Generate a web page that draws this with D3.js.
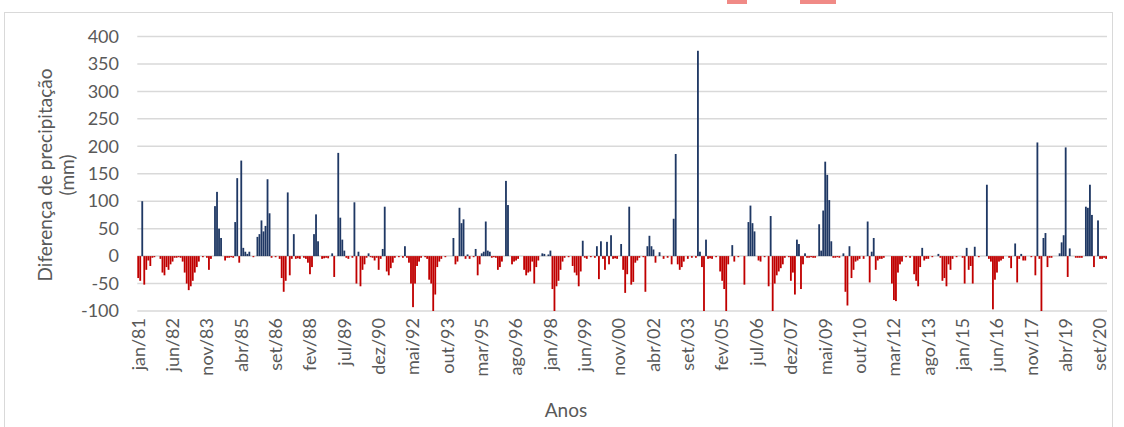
<!DOCTYPE html>
<html>
<head>
<meta charset="utf-8">
<script src="https://cdn.jsdelivr.net/npm/d3@7"></script>
<style>
body { margin: 0; background: #fff; }
svg text { font-family: Lato, "Open Sans", sans-serif; fill: #595959; }
</style>
</head>
<body>
<script>
var w = 1124;
var h = 427;

// meses e anos para os rotulos do eixo x
var meses = ["jan","fev","mar","abr","mai","jun","jul","ago","set","out","nov","dez"];
var anoInicial = 1981;
var yTicks = [-100, -50, 0, 50, 100, 150, 200, 250, 300, 350, 400];

// diferenca de precipitacao (mm), um valor por mes, jan/81 a dez/20
var diferenca = [
 -40, -45, 100, -52, -25, -8, -18, -3, -2, 0, 0, -5,        // 1981
 -30, -35, -20, -25, -15, -10, -3, -3, -2, -3, -10, -30,    // 1982
 -50, -62, -55, -45, -30, -20, -10, 0, -2, 0, -3, -25,      // 1983
 -5, 0, 91, 117, 50, 33, 0, -8, -3, -3, -2, -3,             // 1984
 62, 142, -12, 174, 15, 8, 4, 8, 0, -2, 0, 35,              // 1985
 40, 65, 45, 55, 140, 78, -3, 0, -2, 0, -5, -40,            // 1986
 -65, -45, 116, -35, -5, 40, -5, -4, -5, 0, -3, -5,         // 1987
 -12, -33, -20, 40, 76, 27, 0, -5, -4, -3, -4, 0,           // 1988
 5, -38, 0, 188, 70, 30, 10, -3, -5, 0, -3, 98,             // 1989
 -50, 8, -55, -25, -15, -3, 5, -2, -3, -8, -3, -25,         // 1990
 -5, 13, 90, -28, -35, -22, -12, -3, 0, -2, 0, -3,          // 1991
 18, -3, -12, -50, -93, -50, -18, -10, -3, 0, -2, -5,       // 1992
 -43, -50, -100, -70, -20, -10, -5, 0, -2, 0, 0, 0,         // 1993
 33, -15, -10, 88, 60, 67, -5, 3, -5, 0, -2, 13,            // 1994
 -35, -15, 5, 8, 63, 10, 8, -3, -2, -3, -25, -20,           // 1995
 -10, 0, 137, 93, 0, -15, -10, -8, -5, 0, 0, -25,           // 1996
 -35, -30, -28, -10, -50, -20, -8, 0, 5, 4, 0, 3,           // 1997
 10, -60, -100, -55, -45, -25, -10, -3, 0, -2, 0, -18,      // 1998
 -30, -35, -55, -28, 28, -3, -5, 0, -2, 0, -3, 18,          // 1999
 -42, 27, -5, -25, 26, -15, 38, -5, -4, -5, 0, 22,          // 2000
 -25, -67, -33, 90, -52, -47, -12, -8, -3, 0, -2, -65,      // 2001
 18, 37, 18, 12, -12, 0, 7, 0, -5, 0, -3, 0,                // 2002
 -15, 68, 186, -15, -25, -20, -10, 0, -5, 0, -3, 0,         // 2003
 -3, 374, 8, -20, -100, 30, -5, -4, -5, 0, -2, 0,           // 2004
 -28, -45, -60, -100, -15, 0, 20, -10, 0, -2, 0, 0,         // 2005
 -52, 0, 62, 92, 60, 45, 0, -8, -10, 0, -2, 0,              // 2006
 -55, 73, -100, -50, -35, -28, -22, -15, -3, 0, -2, -45,    // 2007
 -30, -70, 30, 22, -60, -15, 5, -3, -3, -2, -3, -3,         // 2008
 0, 58, 10, 83, 172, 148, 102, 27, -3, -3, -2, -3,          // 2009
 0, 5, -65, -90, 18, -40, -25, -10, -8, -5, 0, -5,          // 2010
 0, 63, -48, 8, 33, -25, -8, -5, -5, -3, 0, 0,              // 2011
 0, -50, -80, -82, -30, -15, -10, 0, -2, 0, -3, 0,          // 2012
 -33, -45, -55, -20, 15, -8, -5, -5, 0, -2, 0, 0,           // 2013
 4, -3, -45, -40, -55, -15, -25, -5, 0, -2, 0, 0,           // 2014
 -3, -50, 15, -25, -18, -50, 17, 0, -2, 0, 0, 0,            // 2015
 130, -5, -10, -97, -43, -30, -10, -8, -5, 0, 0, -3,        // 2016
 -22, 0, 23, -48, -5, 4, -8, -8, 0, 0, -2, 0,               // 2017
 -35, 207, -5, -100, 33, 42, -20, -3, -3, 0, 0, 0,          // 2018
 5, 25, 38, 198, -38, 14, 0, 0, -3, -3, -3, -3,             // 2019
 0, 90, 88, 130, 75, -20, 0, 65, -5, -5, -3, -5             // 2020
];

var categorias = diferenca.map(function(d, i) {
    var ano = anoInicial + Math.floor(i / 12);
    return meses[i % 12] + "/" + String(ano).slice(2);
});

var svg = d3.select("body")
    .append("svg")
    .attr("width", w)
    .attr("height", h);

// moldura do grafico
svg.append("rect")
    .attr("x", 4.5).attr("y", 12.5)
    .attr("width", 1108).attr("height", 430)
    .attr("fill", "none")
    .attr("stroke", "#d9d9d9");

// fragmentos vermelhos no topo
svg.append("rect").attr("x", 727).attr("y", 0).attr("width", 20).attr("height", 4).attr("fill", "#f08a86");
svg.append("rect").attr("x", 800).attr("y", 0).attr("width", 36).attr("height", 4).attr("fill", "#f08a86");

var xScale = d3.scaleBand()
    .domain(d3.range(diferenca.length))
    .range([137.3, 1107])
    .paddingInner(0.1);

var yScale = d3.scaleLinear()
    .domain([-100, 400])
    .range([311, 36.5]);

// linhas de grade
svg.append("g")
    .selectAll("line")
    .data(yTicks)
    .enter()
    .append("line")
    .attr("x1", 137.3)
    .attr("x2", 1107)
    .attr("y1", function(d) { return yScale(d); })
    .attr("y2", function(d) { return yScale(d); })
    .attr("stroke", "#d9d9d9")
    .attr("stroke-width", 1.5);

// barras
svg.append("g")
    .selectAll("rect")
    .data(diferenca)
    .enter()
    .append("rect")
    .attr("x", function(d, i) { return xScale(i); })
    .attr("width", xScale.bandwidth())
    .attr("y", function(d) { return yScale(Math.max(0, d)); })
    .attr("height", function(d) { return Math.abs(yScale(d) - yScale(0)); })
    .attr("fill", function(d) { return d >= 0 ? "#1f3864" : "#c00000"; });

// eixo y
var yAxis = d3.axisLeft(yScale)
    .tickValues(yTicks)
    .tickFormat(function(d) { return String(d); })
    .tickSize(0)
    .tickPadding(0);

svg.append("g")
    .attr("class", "y axis")
    .attr("transform", "translate(119, 0)")
    .call(yAxis)
    .call(function(g) { g.select(".domain").remove(); })
    .selectAll("text")
    .attr("font-size", 18)
    .style("font-family", "Lato, sans-serif")
    .attr("fill", "#595959");

// eixo x, um rotulo a cada 17 meses
var xAxis = d3.axisBottom(xScale)
    .tickValues(d3.range(0, diferenca.length, 17))
    .tickFormat(function(i) { return categorias[i]; })
    .tickSize(0);

svg.append("g")
    .attr("class", "x axis")
    .attr("transform", "translate(0, 311)")
    .call(xAxis)
    .call(function(g) { g.select(".domain").remove(); })
    .selectAll("text")
    .attr("font-size", 18)
    .style("font-family", "Lato, sans-serif")
    .attr("fill", "#595959")
    .attr("text-anchor", "end")
    .attr("transform", "translate(0, 7) rotate(-90)")
    .attr("x", 0)
    .attr("y", 0)
    .attr("dy", "0.35em");

// titulos
var tituloY = svg.append("text")
    .attr("transform", "translate(45, 175) rotate(-90)")
    .attr("text-anchor", "middle")
    .attr("font-size", 19);
tituloY.append("tspan").attr("x", 0).attr("dy", "0.35em").text("Diferença de precipitação");
tituloY.append("tspan").attr("x", 0).attr("dy", "1.2em").text("(mm)");

svg.append("text")
    .attr("x", 566)
    .attr("y", 417)
    .attr("text-anchor", "middle")
    .attr("font-size", 19)
    .text("Anos");
</script>
</body>
</html>
